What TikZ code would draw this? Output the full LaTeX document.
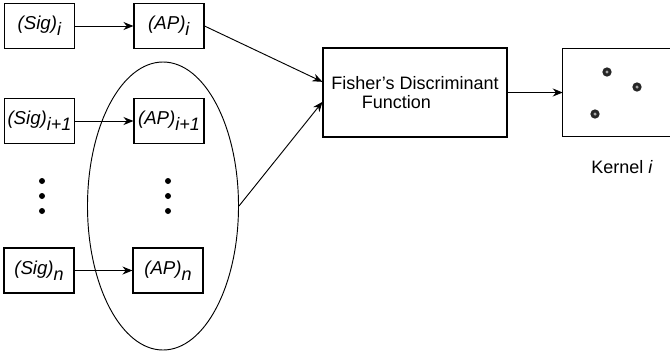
\documentclass[tikz,border=0pt]{standalone}
\usepackage{fontspec}
\setmainfont{Liberation Sans}
\usetikzlibrary{shapes.geometric,arrows.meta}
\newcommand{\lbl}[2]{\textit{#1}\raisebox{-0.6ex}{\textit{\fontsize{13.5}{15}\selectfont #2}}}
\begin{document}
\begin{tikzpicture}[x=0.75pt,y=-0.75pt,
  box/.style={draw,line width=0.8pt,minimum width=70*0.75pt,minimum height=45*0.75pt,inner sep=0pt,font=\fontsize{14}{16}\selectfont},
  arr/.style={line width=0.7pt,-{Stealth[length=7.5pt,width=6pt]}},
  vdot/.style={circle,fill=black,inner sep=0pt,minimum size=4.5pt},
  kdot/.style={circle,fill=black!85,inner sep=0pt,minimum size=7pt,path picture={\fill[gray!70] (path picture bounding box.center) circle (1.3pt);}}]
\useasboundingbox (0,0) rectangle (670,351);
% ellipse
\node[ellipse,draw,line width=0.7pt,minimum width=151*0.75pt,minimum height=288*0.75pt,inner sep=0pt] (ell) at (163,206) {};
% boxes
\node[box] (s1) at (39.5,26) {\lbl{(Sig)}{i}};
\node[box] (a1) at (169,26) {\lbl{(AP)}{i}};
\node[box] (s2) at (39.5,121) {\lbl{(Sig)}{i+1}};
\node[box] (a2) at (169,121) {\lbl{(AP)}{i+1}};
\node[box] (s3) at (39,270.5) {\lbl{(Sig)}{n}};
\node[box] (a3) at (168,270.5) {\lbl{(AP)}{n}};
% vertical dots
\node[vdot] (d1) at (42,181) {};
\node[vdot] (d2) at (42,196) {};
\node[vdot] (d3) at (42,211) {};
\node[vdot] (e1) at (168,181) {};
\node[vdot] (e2) at (168,196) {};
\node[vdot] (e3) at (168,211) {};
% Fisher
\node[draw,line width=0.8pt,minimum width=184*0.75pt,minimum height=89*0.75pt,inner sep=0pt,
      font=\fontsize{13.5}{15}\selectfont,align=center] (f) at (415,92.5)
      {Fisher’s Discriminant\\[-1pt]\hspace*{-28pt}Function};
% Kernel (its right side lies beyond the picture's edge)
\node[minimum width=140*0.75pt,minimum height=87*0.75pt,inner sep=0pt] (k) at (633,92.5) {};
\draw[line width=0.8pt] (k.north east) -- (k.north west) -- (k.south west) -- (k.south east);
\node[kdot] (k1) at (607,72) {};
\node[kdot] (k2) at (637,87) {};
\node[kdot] (k3) at (595,114) {};
\node[font=\fontsize{13.5}{15}\selectfont] (kl) at (622,167) {Kernel \textit{i}};
% arrows
\draw[arr] (s1) -- (a1);
\draw[arr] (s2) -- (a2);
\draw[arr] (s3) -- (a3);
\draw[arr] (a1.east) -- ([yshift=8pt]f.west);
\draw[arr] (ell.east) -- ([yshift=-7pt]f.west);
\draw[arr] (f) -- (k.west);
\end{tikzpicture}
\end{document}
